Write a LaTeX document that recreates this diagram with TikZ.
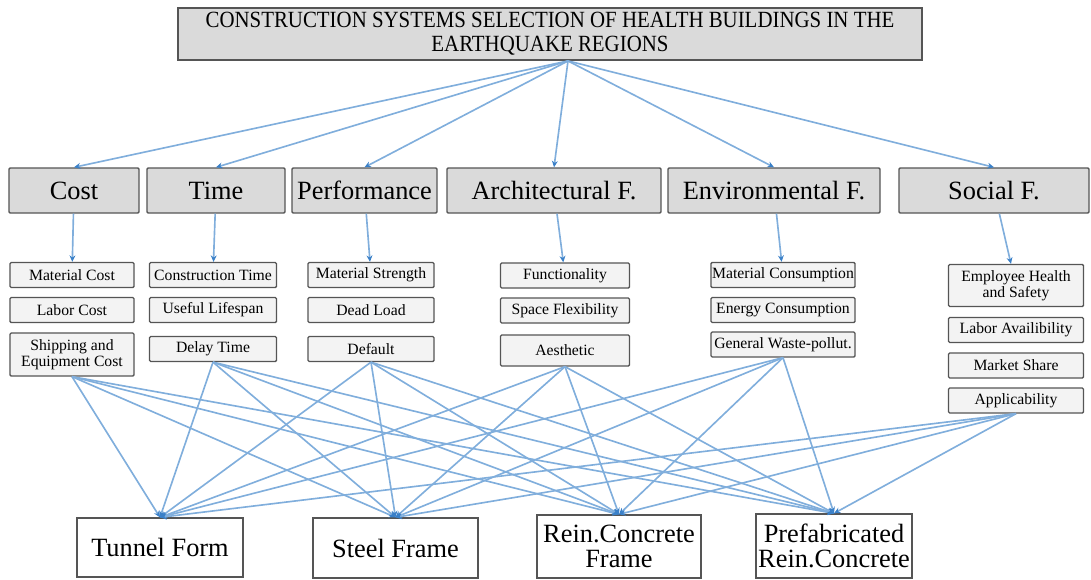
\documentclass[tikz,border=0pt]{standalone}
\usepackage{fontspec}
\setmainfont{Liberation Serif}
\newfontfamily\goalfont[FakeStretch=0.9]{Liberation Serif}
\usepackage{tikz}
\usetikzlibrary{arrows.meta}
\definecolor{linkblue}{RGB}{128,174,220}
\definecolor{tipblue}{RGB}{58,128,200}
\definecolor{boxgray}{RGB}{218,218,218}
\definecolor{subgray}{RGB}{243,243,243}
\definecolor{edgegray}{RGB}{85,85,85}

\tikzset{
  goalbox/.style={draw=edgegray, line width=1.6pt, fill=boxgray, align=center, inner sep=1pt,
    font=\goalfont\fontsize{19.8}{20.5}\selectfont},
  critbox/.style={draw=edgegray, line width=1.2pt, fill=boxgray, rounded corners=1pt,
    minimum height=1.35cm, inner sep=1pt, font=\fontsize{22.5}{24}\selectfont},
  subbox/.style={draw=edgegray, line width=1.1pt, fill=subgray, rounded corners=1pt,
    minimum height=0.75cm, align=center, inner sep=1pt, font=\fontsize{13.4}{14}\selectfont},
  altbox/.style={draw=edgegray, line width=1.1pt, fill=white, align=center, inner sep=1pt,
    font=\fontsize{22.5}{22}\selectfont},
  link/.style={draw=linkblue, line width=1.4pt, -{Stealth[length=5.5pt,width=5pt,color=tipblue]}},
}

\begin{document}
\begin{tikzpicture}[x=0.03cm, y=-0.03cm]
  \useasboundingbox (0,0) rectangle (1091,579);

  % goal
  \node[goalbox, minimum width=22.32cm, minimum height=1.56cm] (goal) at (550,34)
    {CONSTRUCTION SYSTEMS SELECTION OF HEALTH BUILDINGS IN THE\\EARTHQUAKE REGIONS};

  % criteria
  \node[critbox, minimum width=3.9cm]  (cost)   at (74,190.5)  {Cost};
  \node[critbox, minimum width=4.14cm] (time)   at (216,190.5) {Time};
  \node[critbox, minimum width=4.35cm] (perf)   at (364.5,190.5) {Performance};
  \node[critbox, minimum width=6.42cm] (arch)   at (554,190.5) {Architectural F.};
  \node[critbox, minimum width=6.36cm] (env)    at (774,190.5) {Environmental F.};
  \node[critbox, minimum width=5.7cm]  (social) at (994,190.5) {Social F.};

  % sub-criteria, cost
  \node[subbox, minimum width=3.72cm] (matcost) at (72,275) {Material Cost};
  \node[subbox, minimum width=3.72cm] (labcost) at (72,310) {Labor Cost};
  \node[subbox, minimum width=3.72cm, minimum height=1.29cm] (ship) at (72,354.5) {Shipping and\\Equipment Cost};
  % time
  \node[subbox, minimum width=3.81cm] (constime) at (213,275) {Construction Time};
  \node[subbox, minimum width=3.81cm] (lifespan) at (213,310) {Useful Lifespan};
  \node[subbox, minimum width=3.81cm] (delay)    at (213,349) {Delay Time};
  % performance
  \node[subbox, minimum width=3.78cm] (strength) at (371,275) {Material Strength};
  \node[subbox, minimum width=3.78cm] (deadload) at (371,310) {Dead Load};
  \node[subbox, minimum width=3.78cm] (default)  at (371,349) {Default};
  % architectural
  \node[subbox, minimum width=3.87cm] (funct) at (565,275.5) {Functionality};
  \node[subbox, minimum width=3.87cm] (flex)  at (565,310.5) {Space Flexibility};
  \node[subbox, minimum width=3.87cm, minimum height=0.93cm] (aesth) at (565,350.5) {Aesthetic};
  % environmental
  \node[subbox, minimum width=4.32cm] (matcons) at (783,275) {Material Consumption};
  \node[subbox, minimum width=4.32cm] (encons)  at (783,310) {Energy Consumption};
  \node[subbox, minimum width=4.32cm] (waste)   at (783,344.5) {General Waste-pollut.};
  % social
  \node[subbox, minimum width=4.05cm, minimum height=1.26cm] (health) at (1016,285.5) {Employee Health\\and Safety};
  \node[subbox, minimum width=4.05cm] (labavail) at (1016,330)   {Labor Availibility};
  \node[subbox, minimum width=4.05cm] (market)   at (1016,365.5) {Market Share};
  \node[subbox, minimum width=4.05cm] (applic)   at (1016,400.5) {Applicability};

  % alternatives
  \node[altbox, minimum width=4.98cm, minimum height=1.77cm] (tunnel)  at (160,547.5) {Tunnel Form};
  \node[altbox, minimum width=4.95cm, minimum height=1.8cm]  (steel)   at (395.5,548) {Steel Frame};
  \node[altbox, minimum width=4.92cm, minimum height=1.89cm] (rcframe) at (619,546.5) {Rein.Concrete\\Frame};
  \node[altbox, minimum width=4.68cm, minimum height=1.92cm] (prefab)  at (834,546) {Prefabricated\\Rein.Concrete};

  % goal to criteria
  \foreach \c in {cost,time,perf,arch,env,social}
    \draw[link] ([xshift=0.54cm]goal.south) -- (\c.north);
  % criteria to sub-criteria
  \draw[link] (cost)   -- (matcost);
  \draw[link] (time)   -- (constime);
  \draw[link] (perf)   -- (strength);
  \draw[link] (arch)   -- (funct);
  \draw[link] (env)    -- (matcons);
  \draw[link] (social) -- (health);
  % sub-criteria to alternatives
  \foreach \s in {ship,delay,default,aesth,waste,applic}
    \foreach \a in {tunnel,steel,rcframe,prefab}
      \draw[link] (\s.south) -- (\a.north);
\end{tikzpicture}
\end{document}
